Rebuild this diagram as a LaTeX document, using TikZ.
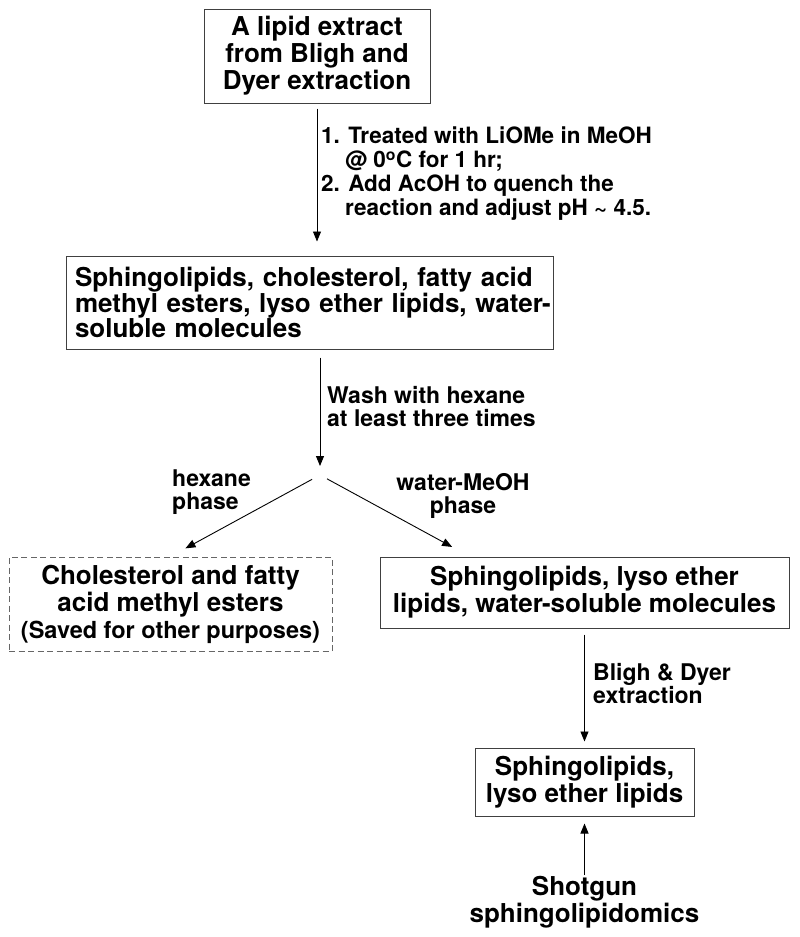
\documentclass[tikz,border=0pt]{standalone}
\usepackage{fontspec}
\setmainfont{TeX Gyre Heros}
\usetikzlibrary{arrows.meta,calc}

\tikzset{
  stepbox/.style={draw=black!75, line width=1pt, inner sep=0pt, align=center,
    font=\bfseries\fontsize{26}{27}\selectfont},
  note/.style={inner sep=0pt, align=left, font=\bfseries\fontsize{23}{23}\selectfont},
  flow/.style={-{Triangle[length=10pt,width=8pt]}, line width=0.9pt},
}

\begin{document}
\begin{tikzpicture}[x=1pt,y=-1pt]
  \useasboundingbox (0,0) rectangle (800,937);
  % boxes
  \node [stepbox, minimum width=226pt, minimum height=94pt] (extract) at (317,56)
    {A lipid extract\\from Bligh and\\Dyer extraction};
  \node [stepbox, align=left, text width=469pt, inner xsep=9pt, minimum height=93pt,
    font=\bfseries\fontsize{26}{25}\selectfont] (mix) at (309.5,302.5)
    {\mbox{Sphingolipids, cholesterol, fatty acid}\\\mbox{methyl esters, lyso ether lipids, water-}\\\mbox{soluble molecules}};
  \coordinate (split) at (320,475);
  \node [stepbox, draw=black!60, dash pattern=on 6pt off 3.5pt, minimum width=323pt,
    minimum height=94pt] (sterol) at (170.5,604)
    {Cholesterol and fatty\\acid methyl esters\\{\fontsize{23.5}{27}\selectfont(Saved for other purposes)}};
  \node [stepbox, minimum width=409pt, minimum height=71pt] (lyso) at (584.5,592.5)
    {Sphingolipids, lyso ether\\lipids, water-soluble molecules};
  \node [stepbox, minimum width=219pt, minimum height=68pt] (sphingo) at (584.5,782)
    {Sphingolipids,\\lyso ether lipids};
  \node [stepbox, draw=none, anchor=north] (shotgun) at (584.5,876)
    {Shotgun\\sphingolipidomics};
  % labels
  \node [note, anchor=north west, font=\bfseries\fontsize{22.5}{24}\selectfont] (treat) at (321,127)
    {1. Treated with LiOMe in MeOH\\\hspace*{24pt}@ 0\textsuperscript{o}C for 1 hr;\\2. Add AcOH to quench the\\\hspace*{24pt}reaction and adjust pH \textasciitilde{} 4.5.};
  \node [note, anchor=north west] (wash) at (327,386) {Wash with hexane\\at least three times};
  \node [note, anchor=north west] (hexphase) at (172,470) {hexane\\phase};
  \node [note, anchor=north, align=center] (waterphase) at (463,473) {water-MeOH\\phase};
  \node [note, anchor=north west] (bd) at (593,663) {Bligh \& Dyer\\extraction};
  % connectors
  \draw [flow, shorten <=5pt, shorten >=14pt] (extract.south) -- (extract.south |- mix.north);
  \draw [flow, shorten <=8pt, shorten >=9pt] (mix.south -| split) -- (split);
  \draw [flow, shorten <=9pt, shorten >=17pt] (split) -- (sterol.north);
  \draw [flow, shorten <=8pt, shorten >=20pt] (split) -- ($(lyso.north west)!0.22!(lyso.north east)$);
  \draw [flow, shorten <=6pt, shorten >=6pt] (lyso) -- (sphingo);
  \draw [flow, shorten <=1pt, shorten >=7pt] (shotgun) -- (sphingo);
\end{tikzpicture}
\end{document}
